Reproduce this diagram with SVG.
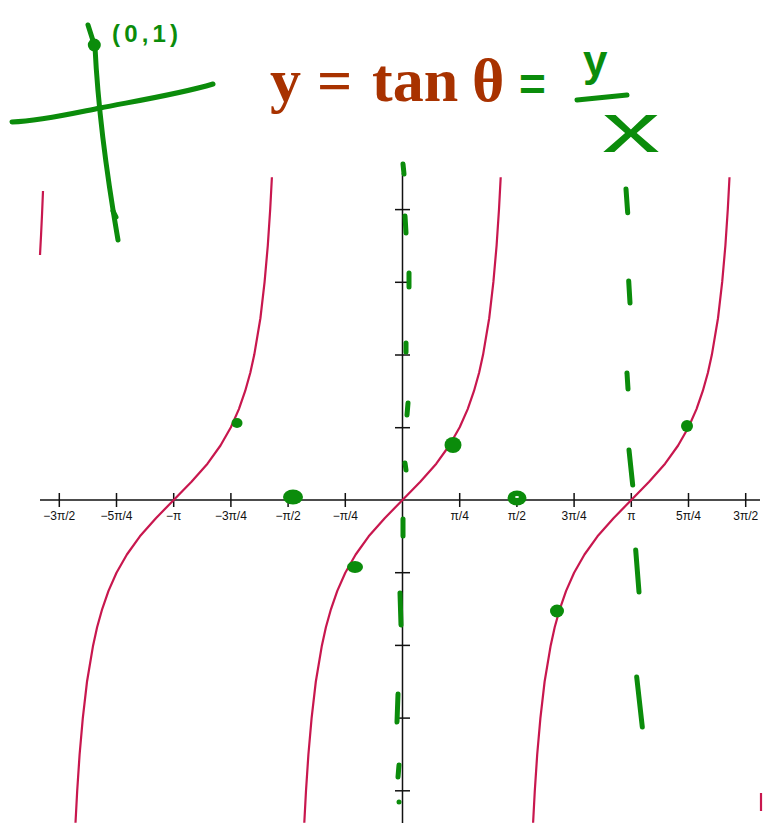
<svg xmlns="http://www.w3.org/2000/svg" xmlns:xlink="http://www.w3.org/1999/xlink" width="763" height="823" viewBox="0 0 763 823">
<style>
.axis{stroke:#111;stroke-width:1.5;fill:none}
.tick{stroke:#111;stroke-width:1.5}
.lbl{font-family:"Liberation Sans",Arial,sans-serif;font-size:12px;fill:#111;text-anchor:middle}
.curve{stroke:#c8174e;stroke-width:2.2;fill:none;stroke-linejoin:round}
.ink{stroke:#0b8c0b;stroke-width:5;fill:none;stroke-linecap:round;stroke-linejoin:round}
.dot{fill:#0b8c0b}
.title{font-family:"Liberation Serif","Times New Roman",serif;font-weight:bold;font-size:62px;fill:#a83200}
.hand{font-family:"Liberation Sans",Arial,sans-serif;fill:#0b8c0b}
</style>
<defs>
<polyline id="branch" points="-98.2,322.8 -96.5,290.8 -94.1,254.5 -90.9,218.1 -86.7,181.75 -80.6,145.4 -76.6,127.2 -71.5,109.05 -65.2,90.9 -57.2,72.7 -46.8,54.5 -33.8,36.35 -17.8,18.2 0,0 17.8,-18.2 33.8,-36.35 46.8,-54.5 57.2,-72.7 65.2,-90.9 71.5,-109.05 76.6,-127.2 80.6,-145.4 86.7,-181.75 90.9,-218.1 94.1,-254.5 96.5,-290.8 98.2,-322.8"/>
</defs>
<rect width="763" height="823" fill="#fff"/>
<g id="axes">
<line class="axis" x1="40" y1="500" x2="760" y2="500"/>
<line class="axis" x1="402.5" y1="173" x2="402.5" y2="823"/>
<g id="xticks">
<line class="tick" x1="59.3" y1="493" x2="59.3" y2="507"/>
<line class="tick" x1="116.5" y1="493" x2="116.5" y2="507"/>
<line class="tick" x1="173.7" y1="493" x2="173.7" y2="507"/>
<line class="tick" x1="230.9" y1="493" x2="230.9" y2="507"/>
<line class="tick" x1="288.1" y1="493" x2="288.1" y2="507"/>
<line class="tick" x1="345.3" y1="493" x2="345.3" y2="507"/>
<line class="tick" x1="459.7" y1="493" x2="459.7" y2="507"/>
<line class="tick" x1="516.9" y1="493" x2="516.9" y2="507"/>
<line class="tick" x1="574.1" y1="493" x2="574.1" y2="507"/>
<line class="tick" x1="631.3" y1="493" x2="631.3" y2="507"/>
<line class="tick" x1="688.5" y1="493" x2="688.5" y2="507"/>
<line class="tick" x1="745.7" y1="493" x2="745.7" y2="507"/>
</g>
<g id="yticks">
<line class="tick" x1="395" y1="209.6" x2="410" y2="209.6"/>
<line class="tick" x1="395" y1="282.3" x2="410" y2="282.3"/>
<line class="tick" x1="395" y1="355" x2="410" y2="355"/>
<line class="tick" x1="395" y1="427.7" x2="410" y2="427.7"/>
<line class="tick" x1="395" y1="572.7" x2="410" y2="572.7"/>
<line class="tick" x1="395" y1="645.4" x2="410" y2="645.4"/>
<line class="tick" x1="395" y1="718.1" x2="410" y2="718.1"/>
<line class="tick" x1="395" y1="790.8" x2="410" y2="790.8"/>
</g>
<g id="xlabels">
<text class="lbl" x="59.3" y="520">−3π/2</text>
<text class="lbl" x="116.5" y="520">−5π/4</text>
<text class="lbl" x="173.7" y="520">−π</text>
<text class="lbl" x="230.9" y="520">−3π/4</text>
<text class="lbl" x="288.1" y="520">−π/2</text>
<text class="lbl" x="345.3" y="520">−π/4</text>
<text class="lbl" x="459.7" y="520">π/4</text>
<text class="lbl" x="516.9" y="520">π/2</text>
<text class="lbl" x="574.1" y="520">3π/4</text>
<text class="lbl" x="631.3" y="520">π</text>
<text class="lbl" x="688.5" y="520">5π/4</text>
<text class="lbl" x="745.7" y="520">3π/2</text>
</g>
</g>
<g id="curves">
<use xlink:href="#branch" href="#branch" class="curve" transform="translate(173.7,500)"/>
<use xlink:href="#branch" href="#branch" class="curve" transform="translate(402.5,500)"/>
<use xlink:href="#branch" href="#branch" class="curve" transform="translate(631.3,500)"/>
<polyline class="curve" points="43,191 42,215 41,236 40,255"/>
<polyline class="curve" points="761,793 761,811"/>
</g>
<g id="title">
<text class="title" y="101"><tspan x="270">y</tspan><tspan x="317">=</tspan><tspan x="372">tan</tspan><tspan x="472">θ</tspan></text>
</g>
<g id="annotations">
<g id="sketch">
<path class="ink" d="M88,25 L95,47 Q99,130 118,240"/>
<path class="ink" d="M12,122 C40,121 70,114 100,108 S180,94 213,84"/>
<line class="ink" x1="113" y1="211" x2="116" y2="217"/>
<circle class="dot" cx="94.3" cy="45" r="6.5"/>
<text class="hand" x="112" y="42" font-size="24" font-weight="bold" textLength="66" lengthAdjust="spacing">(0,1)</text>
</g>
<g id="fraction">
<text class="hand" x="519" y="100" font-size="46" font-weight="bold">=</text>
<text class="hand" x="583" y="76" font-size="44" font-weight="bold">y</text>
<path class="ink" d="M577,100 L627,95"/>
<text class="hand" x="602" y="152" font-size="70" textLength="58" lengthAdjust="spacingAndGlyphs">x</text>
</g>
<g id="asymptote-0">
<line class="ink" x1="403" y1="164" x2="404" y2="174"/>
<line class="ink" x1="405" y1="216" x2="406" y2="233"/>
<line class="ink" x1="409" y1="273" x2="409" y2="287"/>
<line class="ink" x1="406" y1="343" x2="406" y2="352"/>
<line class="ink" x1="408" y1="403" x2="407" y2="415"/>
<line class="ink" x1="405" y1="463" x2="406" y2="470"/>
<line class="ink" x1="403" y1="519" x2="403" y2="536"/>
<line class="ink" x1="400" y1="593" x2="401" y2="625"/>
<line class="ink" x1="398" y1="694" x2="397" y2="722"/>
<line class="ink" x1="399" y1="765" x2="398" y2="777"/>
<circle class="dot" cx="399" cy="802" r="2.5"/>
</g>
<g id="asymptote-pi">
<line class="ink" x1="626" y1="189" x2="627.7" y2="212.7"/>
<line class="ink" x1="628.7" y1="281" x2="630" y2="303"/>
<line class="ink" x1="627" y1="373" x2="628" y2="389"/>
<line class="ink" x1="629" y1="450" x2="632.7" y2="485"/>
<line class="ink" x1="635.7" y1="550" x2="639" y2="592"/>
<line class="ink" x1="636.7" y1="677" x2="642.3" y2="727"/>
</g>
<g id="points">
<ellipse class="dot" cx="237" cy="423" rx="5.5" ry="5"/>
<ellipse class="dot" cx="293" cy="497" rx="10" ry="7.5"/>
<ellipse class="dot" cx="355" cy="567" rx="8" ry="6"/>
<ellipse class="dot" cx="453" cy="445" rx="8.5" ry="8"/>
<ellipse class="dot" cx="517" cy="498" rx="9.5" ry="7.5"/>
<ellipse cx="517" cy="497" rx="2" ry="1" fill="#fff"/>
<ellipse class="dot" cx="557" cy="611" rx="7" ry="6.5"/>
<ellipse class="dot" cx="687" cy="426" rx="6" ry="6"/>
</g>
</g>
</svg>
